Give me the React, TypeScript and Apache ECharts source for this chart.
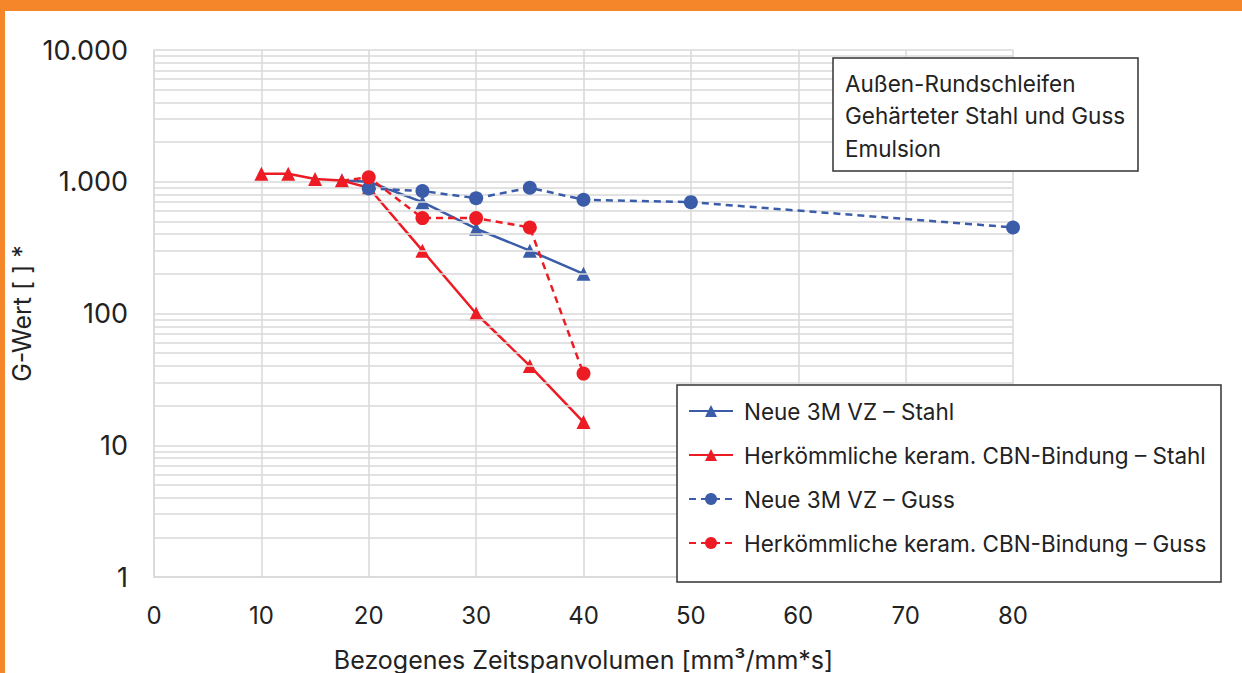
import React, { useEffect, useRef } from "react";
import * as echarts from "echarts";

const FONT = "Inter, 'Noto Sans', sans-serif";

const seriesNames = [
  "Neue 3M VZ – Stahl",
  "Herkömmliche keram. CBN-Bindung – Stahl",
  "Neue 3M VZ – Guss",
  "Herkömmliche keram. CBN-Bindung – Guss",
];

const xBlueStahl = [17.5, 20, 25, 30, 35, 40];
const yBlueStahl = [1020, 1000, 700, 440, 300, 200];

const xRedStahl = [10, 12.5, 15, 17.5, 20, 25, 30, 35, 40];
const yRedStahl = [1150, 1150, 1050, 1020, 900, 300, 100, 40, 15];

const xBlueGuss = [20, 25, 30, 35, 40, 50, 80];
const yBlueGuss = [890, 850, 750, 900, 730, 700, 450];

const xRedGuss = [17.5, 20, 25, 30, 35, 40];
const yRedGuss = [1020, 1080, 530, 530, 450, 35];

const minorGridValues = [
  2, 3, 4, 5, 6, 7, 8, 9,
  20, 30, 40, 50, 60, 70, 80, 90,
  200, 300, 400, 500, 600, 700, 800, 900,
  2000, 3000, 4000, 5000, 6000, 7000, 8000, 9000,
];

const noteLines = ["Außen-Rundschleifen", "Gehärteter Stahl und Guss", "Emulsion"];

const xAxisName = "Bezogenes Zeitspanvolumen [mm³/mm*s]";
const yAxisName = "G-Wert [ ] *";

const BLUE = "#3a5ca9";
const RED = "#ed1c24";
const GRID = "#d9d9d9";
const TEXT = "#222222";

const zip = (xs: number[], ys: number[]) => xs.map((x, i) => [x, ys[i]]);

const fmt = (v: number) => String(Math.round(v)).replace(/\B(?=(\d{3})+(?!\d))/g, ".");

export default function App() {
  const ref = useRef<HTMLDivElement>(null);

  useEffect(() => {
    document.body.style.margin = "0";
    const chart = echarts.init(ref.current!, undefined, { renderer: "svg" });
    const option: any = {
      animation: false,
      backgroundColor: "#ffffff",
      textStyle: { fontFamily: FONT },
      grid: { left: 154, top: 50, width: 859, height: 527, containLabel: false, outerBoundsMode: "none" },
      xAxis: {
        type: "value",
        min: 0,
        max: 80,
        interval: 10,
        name: xAxisName,
        nameLocation: "middle",
        nameGap: 70,
        nameMoveOverlap: false,
        nameTextStyle: { fontSize: 25, color: TEXT, fontFamily: FONT },
        axisLine: { show: true, lineStyle: { color: GRID, width: 1.5 } },
        axisTick: { show: false },
        axisLabel: { fontSize: 24, color: TEXT, margin: 26, fontFamily: FONT },
        splitLine: { show: true, lineStyle: { color: GRID, width: 1.5 } },
      },
      yAxis: {
        type: "log",
        logBase: 10,
        min: 1,
        max: 10000,
        name: yAxisName,
        nameLocation: "middle",
        nameGap: 120,
        nameMoveOverlap: false,
        nameRotate: 90,
        nameTextStyle: { fontSize: 25, color: TEXT, fontFamily: FONT },
        axisLine: { show: true, lineStyle: { color: GRID, width: 1.5 } },
        axisTick: { show: false },
        axisLabel: { fontSize: 27, color: TEXT, margin: 26, fontFamily: FONT, formatter: (v: number) => fmt(v) },
        splitLine: { show: true, lineStyle: { color: GRID, width: 1.5 } },
      },
      legend: {
        orient: "vertical",
        left: 688,
        top: 399,
        itemWidth: 44,
        itemHeight: 15,
        itemGap: 20,
        padding: 0,
        data: seriesNames,
        textStyle: { fontSize: 22.5, color: TEXT, fontFamily: FONT, lineHeight: 24, padding: [0, 0, 0, 6] },
        z: 20,
      },
      graphic: [
        { type: "rect", z: 100, shape: { x: 0, y: 0, width: 1242, height: 11 }, style: { fill: "#f5862a" } },
        { type: "rect", z: 100, shape: { x: 0, y: 0, width: 5, height: 673 }, style: { fill: "#f5862a" } },
        {
          type: "rect",
          z: 10,
          shape: { x: 677, y: 385, width: 544, height: 197 },
          style: { fill: "#ffffff", stroke: "#333333", lineWidth: 1.5 },
        },
        {
          type: "rect",
          z: 10,
          shape: { x: 833, y: 58, width: 305, height: 113 },
          style: { fill: "#ffffff", stroke: "#333333", lineWidth: 1.5 },
        },
        ...noteLines.map((t, i) => ({
          type: "text",
          z: 11,
          x: 845,
          y: 83 + i * 32.5,
          style: { text: t, fontSize: 22.5, fill: TEXT, fontFamily: FONT, verticalAlign: "middle", align: "left" },
        })),
      ],
      series: [
        {
          type: "line",
          name: "__grid",
          data: [],
          silent: true,
          z: 0,
          markLine: {
            silent: true,
            symbol: ["none", "none"],
            label: { show: false },
            lineStyle: { color: GRID, width: 1.5, type: "solid" },
            emphasis: { disabled: true },
            animation: false,
            data: minorGridValues.map((v) => ({ yAxis: v })),
          },
        },
        {
          type: "line",
          name: seriesNames[0],
          data: zip(xBlueStahl, yBlueStahl),
          z: 3,
          symbol: "triangle",
          symbolSize: 14,
          itemStyle: { color: BLUE },
          lineStyle: { color: BLUE, width: 2.5 },
        },
        {
          type: "line",
          name: seriesNames[1],
          data: zip(xRedStahl, yRedStahl),
          z: 4,
          symbol: "triangle",
          symbolSize: 14,
          itemStyle: { color: RED },
          lineStyle: { color: RED, width: 2.5 },
        },
        {
          type: "line",
          name: seriesNames[2],
          data: zip(xBlueGuss, yBlueGuss),
          z: 5,
          symbol: "circle",
          symbolSize: 14,
          itemStyle: { color: BLUE },
          lineStyle: { color: BLUE, width: 2.5, type: [7, 5] },
        },
        {
          type: "line",
          name: seriesNames[3],
          data: zip(xRedGuss, yRedGuss),
          z: 6,
          symbol: (_v: any, p: any) => (p.dataIndex === 0 ? "none" : "circle"),
          symbolSize: 14,
          itemStyle: { color: RED },
          lineStyle: { color: RED, width: 2.5, type: [7, 5] },
        },
      ],
    };
    chart.setOption(option);
    return () => chart.dispose();
  }, []);

  return (
    <div
      ref={ref}
      style={{ position: "absolute", left: 0, top: 0, width: 1242, height: 673, background: "#fff" }}
    />
  );
}
